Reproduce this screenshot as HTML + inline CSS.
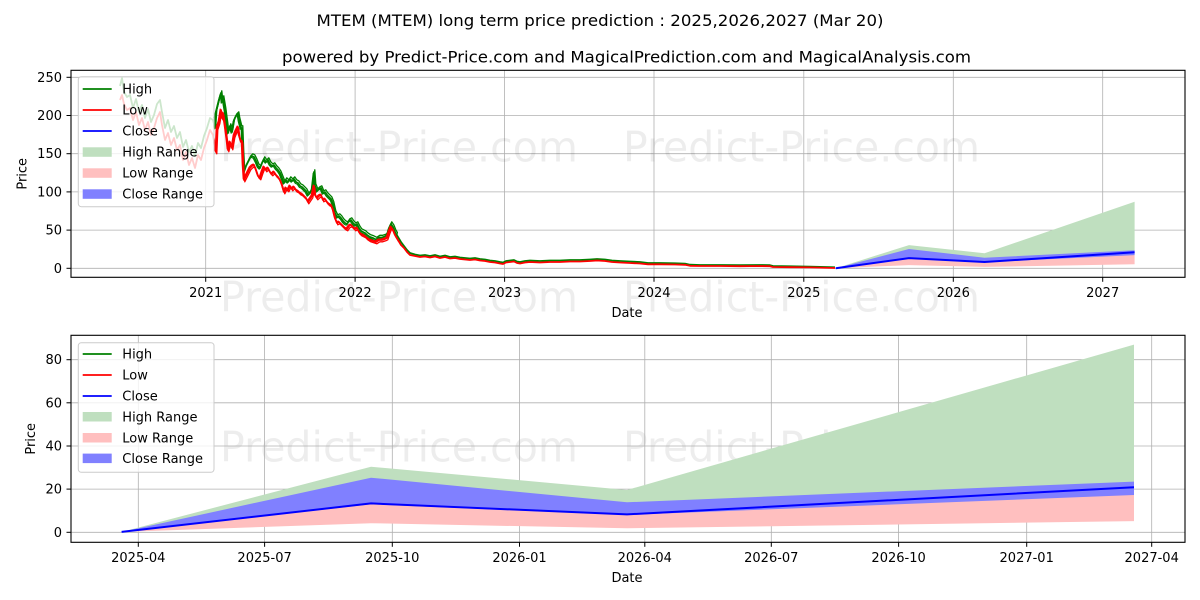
<!DOCTYPE html>
<html>
<head>
<meta charset="utf-8">
<style>
html,body{margin:0;padding:0;background:#fff;}
svg{display:block;}
text{font-family:"DejaVu Sans","Liberation Sans",sans-serif;}
</style>
</head>
<body>
<svg width="1200" height="600" viewBox="0 0 1200 600" xmlns="http://www.w3.org/2000/svg">
<defs>
<clipPath id="c1"><rect x="71" y="70.3" width="1114" height="207"/></clipPath>
<clipPath id="c2"><rect x="71" y="335.3" width="1114" height="207"/></clipPath>
<clipPath id="cn"><rect x="213" y="70.3" width="185" height="207"/></clipPath>
<polyline id="hi" fill="none" stroke-linejoin="round" points="120,86 122,78 124,92 127,97 130,95 133,108 136,99 139,112 142,105 145,118 148,109 151,122 154,115 157,104 160,100 162,112 165,128 168,120 171,132 174,126 177,138 180,132 183,147 186,140 189,152 192,146 195,156 198,143 201,148 204,136 207,128 210,118 213,120 215,128 216,112 217,108 219,100 221,93 222,102 223,98 225,110 227,125 228,133 230,126 232,132 234,120 236,116 238,114 239,120 241,128 242,128 243,155 244,172 246,166 248,162 250,158 252,156 254,157 256,161 258,166 260,168 262,163 264,159 266,162 268,160 270,164 272,166 274,165 276,168 278,170 280,173 282,178 284,183 286,180 288,182 290,179 292,181 294,179 296,182 298,183 300,186 302,187 304,189 306,191 308,195 310,193 312,189 314,172 315,186 317,191 319,189 321,188 323,193 325,192 327,195 329,197 331,199 333,204 335,213 337,217 339,216 341,218 343,221 345,223 347,224 349,221 351,220 353,223 355,225 357,224 359,228 361,231 363,232 365,233 367,235 370,237 373,238 376,239.5 379,237.5 382,237.5 385,236.5 387,235 389,228 391,224 393,227 395,232 398,237 401,242 404,246 407,250 410,253 415,254.5 420,255.5 425,255 430,256 435,255 440,256.5 445,255.5 450,257 455,256.5 460,257.5 465,258 470,258.5 475,258 480,259 485,259.5 490,260.5 495,261 500,262 503,262.5 506,261 510,260.5 514,260 517,261.5 520,262 525,261 530,260.5 540,261 550,260.5 560,260.5 570,260 580,260 590,259.5 597,259 605,259.5 612,260.5 620,261 630,261.5 640,262 648,263 660,263 675,263.3 685,263.6 690,264.7 700,265 720,265 740,265.2 760,265 770,265.2 773,266 790,266.3 810,266.6 835,267.3"/>
<polyline id="lo" fill="none" stroke-linejoin="round" points="120,100 122,95 124,104 127,110 130,108 133,120 136,112 139,125 142,118 145,130 148,122 151,135 154,128 157,118 160,112 162,125 165,140 168,133 171,145 174,138 177,150 180,145 183,160 186,152 189,165 192,158 195,168 198,155 201,160 204,148 207,140 210,130 213,135 215,148 216,152 217,128 219,122 221,110 222,118 223,113 225,126 227,141 228,150 230,142 232,148 234,136 236,131 238,127 239,135 241,142 242,141 243,165 244,180 246,176 248,172 250,168 252,166 254,165 256,170 258,176 260,178 262,172 264,167 266,170 268,168 270,172 272,174 274,172 276,175 278,177 280,180 282,185 284,192 286,188 288,190 290,186 292,189 294,187 296,190 298,191 300,193 302,194 304,196 306,198 308,202 310,199 312,196 314,186 315,195 317,198 319,196 321,195 323,200 325,199 327,202 329,204 331,205 333,210 335,218 337,223 339,222 341,224 343,226 345,228 347,229 349,226 351,225 353,227 355,229 357,228 359,232 361,234 363,235 365,236 367,238 370,240 373,241 376,242 379,240 382,240 385,239 387,238 389,232 391,227 393,230 395,235 398,240 401,245 404,248 407,252 410,255 415,256 420,257 425,256.5 430,257.5 435,256.5 440,258 445,257 450,258.5 455,258 460,259 465,259.5 470,260 475,259.5 480,260.5 485,261 490,262 495,262.5 500,263.5 503,264 506,262.5 510,262 514,261.5 517,263 520,263.5 525,262.5 530,262 540,262.5 550,262 560,262 570,261.5 580,261.5 590,261 597,260.5 605,261 612,262 620,262.5 630,263 640,263.5 648,264.3 660,264.3 675,264.5 685,264.8 690,265.8 700,266 720,266 740,266.2 760,266 770,266.2 773,267 790,267.2 810,267.4 835,268"/>
</defs>
<rect width="1200" height="600" fill="#fff"/>

<!-- Titles -->
<text x="600" y="26" font-size="16" text-anchor="middle" textLength="567" lengthAdjust="spacingAndGlyphs" fill="#000">MTEM (MTEM) long term price prediction : 2025,2026,2027 (Mar 20)</text>
<text x="626.5" y="62.5" font-size="16" text-anchor="middle" textLength="689" lengthAdjust="spacingAndGlyphs" fill="#000">powered by Predict-Price.com and MagicalPrediction.com and MagicalAnalysis.com</text>

<!-- ===== TOP CHART ===== -->
<g stroke="#b0b0b0" stroke-width="0.8">
<line x1="71" x2="1185" y1="268.3" y2="268.3"/>
<line x1="71" x2="1185" y1="230.1" y2="230.1"/>
<line x1="71" x2="1185" y1="191.9" y2="191.9"/>
<line x1="71" x2="1185" y1="153.7" y2="153.7"/>
<line x1="71" x2="1185" y1="115.5" y2="115.5"/>
<line x1="71" x2="1185" y1="77.3" y2="77.3"/>
<line y1="70.3" y2="277.3" x1="205.7" x2="205.7"/>
<line y1="70.3" y2="277.3" x1="355.1" x2="355.1"/>
<line y1="70.3" y2="277.3" x1="504.6" x2="504.6"/>
<line y1="70.3" y2="277.3" x1="654" x2="654"/>
<line y1="70.3" y2="277.3" x1="803.8" x2="803.8"/>
<line y1="70.3" y2="277.3" x1="953.3" x2="953.3"/>
<line y1="70.3" y2="277.3" x1="1102.7" x2="1102.7"/>
</g>

<!-- watermarks -->
<g font-size="42" fill="#000" fill-opacity="0.07">
<text x="220" y="161.7" textLength="358" lengthAdjust="spacingAndGlyphs">Predict-Price.com</text>
<text x="623" y="161.7" textLength="357" lengthAdjust="spacingAndGlyphs">Predict-Price.com</text>
<text x="220" y="311.7" textLength="358" lengthAdjust="spacingAndGlyphs">Predict-Price.com</text>
<text x="623" y="311.7" textLength="357" lengthAdjust="spacingAndGlyphs">Predict-Price.com</text>
<text x="220" y="461.7" textLength="358" lengthAdjust="spacingAndGlyphs">Predict-Price.com</text>
<text x="623" y="461.7" textLength="357" lengthAdjust="spacingAndGlyphs">Predict-Price.com</text>
</g>

<g clip-path="url(#c1)">
<use href="#hi" stroke="#008000" stroke-width="1.8"/>
<g clip-path="url(#cn)">
<use href="#hi" stroke="#008000" stroke-width="1.3" transform="translate(0.8,-2.2)"/>
<use href="#hi" stroke="#008000" stroke-width="1.1" transform="translate(-0.8,1.2)"/>
</g>
<use href="#lo" stroke="#ff0000" stroke-width="1.8"/>
<g clip-path="url(#cn)">
<use href="#lo" stroke="#ff0000" stroke-width="1.3" transform="translate(0.8,1.8)"/>
<use href="#lo" stroke="#ff0000" stroke-width="1.1" transform="translate(-0.8,-1)"/>
</g>
<!-- forecast -->
<polygon fill="#bfdfbf" points="835.8,268.2 909,245.1 984.5,253.3 1134.6,201.8 1134.6,252.3 984.5,262 909,258.1"/>
<polygon fill="#ffbfbf" points="835.8,268.2 909,258.1 984.5,262 1134.6,252.3 1134.6,264.3 984.5,266.9 909,265.1"/>
<polygon fill="#8080ff" points="835.8,268.2 909,249 984.5,257.7 1134.6,250.3 1134.6,255.1 984.5,262.2 909,258.4"/>
<polyline fill="none" stroke="#0000ff" stroke-width="2" stroke-linejoin="round" points="835.8,268.2 909,258.1 984.5,262 1134.6,252.3"/>
</g>

<!-- top axes frame -->
<rect x="71" y="70.3" width="1114" height="207" fill="none" stroke="#000" stroke-width="1.1"/>
<g stroke="#000" stroke-width="1">
<line x1="66.5" x2="71" y1="268.3" y2="268.3"/>
<line x1="66.5" x2="71" y1="230.1" y2="230.1"/>
<line x1="66.5" x2="71" y1="191.9" y2="191.9"/>
<line x1="66.5" x2="71" y1="153.7" y2="153.7"/>
<line x1="66.5" x2="71" y1="115.5" y2="115.5"/>
<line x1="66.5" x2="71" y1="77.3" y2="77.3"/>
<line y1="277.3" y2="281.8" x1="205.7" x2="205.7"/>
<line y1="277.3" y2="281.8" x1="355.1" x2="355.1"/>
<line y1="277.3" y2="281.8" x1="504.6" x2="504.6"/>
<line y1="277.3" y2="281.8" x1="654" x2="654"/>
<line y1="277.3" y2="281.8" x1="803.8" x2="803.8"/>
<line y1="277.3" y2="281.8" x1="953.3" x2="953.3"/>
<line y1="277.3" y2="281.8" x1="1102.7" x2="1102.7"/>
</g>
<g font-size="13" fill="#000" text-anchor="end">
<text x="62" y="272.8">0</text>
<text x="62" y="234.6">50</text>
<text x="62" y="196.4">100</text>
<text x="62" y="158.2">150</text>
<text x="62" y="120">200</text>
<text x="62" y="81.8">250</text>
</g>
<g font-size="13" fill="#000" text-anchor="middle">
<text x="205.7" y="297">2021</text>
<text x="355.1" y="297">2022</text>
<text x="504.6" y="297">2023</text>
<text x="654" y="297">2024</text>
<text x="803.8" y="297">2025</text>
<text x="953.3" y="297">2026</text>
<text x="1102.7" y="297">2027</text>
<text x="627" y="317">Date</text>
<text transform="translate(26.5,173.8) rotate(-90)">Price</text>
</g>

<!-- top legend -->
<rect x="78.3" y="76.7" width="135.7" height="130" rx="3" ry="3" fill="#fff" fill-opacity="0.8" stroke="#cccccc" stroke-width="1"/>
<g stroke-width="1.8">
<line x1="82.7" x2="111.7" y1="89" y2="89" stroke="#008000"/>
<line x1="82.7" x2="111.7" y1="110" y2="110" stroke="#ff0000"/>
<line x1="82.7" x2="111.7" y1="131" y2="131" stroke="#0000ff"/>
</g>
<rect x="82.7" y="147.3" width="29" height="9.5" fill="#bfdfbf"/>
<rect x="82.7" y="168.3" width="29" height="9.5" fill="#ffbfbf"/>
<rect x="82.7" y="189.3" width="29" height="9.5" fill="#8080ff"/>
<g font-size="13" fill="#000">
<text x="122.3" y="93.6">High</text>
<text x="122.3" y="114.6">Low</text>
<text x="122.3" y="135.6">Close</text>
<text x="122.3" y="156.6">High Range</text>
<text x="122.3" y="177.6">Low Range</text>
<text x="122.3" y="198.6">Close Range</text>
</g>

<!-- ===== BOTTOM CHART ===== -->
<g stroke="#b0b0b0" stroke-width="0.8">
<line x1="71" x2="1185" y1="532.3" y2="532.3"/>
<line x1="71" x2="1185" y1="489.1" y2="489.1"/>
<line x1="71" x2="1185" y1="446" y2="446"/>
<line x1="71" x2="1185" y1="402.8" y2="402.8"/>
<line x1="71" x2="1185" y1="359.7" y2="359.7"/>
<line y1="335.3" y2="542.3" x1="138.3" x2="138.3"/>
<line y1="335.3" y2="542.3" x1="264.6" x2="264.6"/>
<line y1="335.3" y2="542.3" x1="392.3" x2="392.3"/>
<line y1="335.3" y2="542.3" x1="519.5" x2="519.5"/>
<line y1="335.3" y2="542.3" x1="644.8" x2="644.8"/>
<line y1="335.3" y2="542.3" x1="771.3" x2="771.3"/>
<line y1="335.3" y2="542.3" x1="898.6" x2="898.6"/>
<line y1="335.3" y2="542.3" x1="1026.7" x2="1026.7"/>
<line y1="335.3" y2="542.3" x1="1151.7" x2="1151.7"/>
</g>
<g clip-path="url(#c2)">
<polygon fill="#bfdfbf" points="121.6,531.9 371,466.7 627,490 1134,344.6 1134,487.2 627,514.4 371,503.4"/>
<polygon fill="#ffbfbf" points="121.6,531.9 371,503.4 627,514.4 1134,487.2 1134,521.1 627,528.3 371,523.2"/>
<polygon fill="#8080ff" points="121.6,531.9 371,477.7 627,502.3 1134,481.6 1134,495 627,515 371,504.3"/>
<polyline fill="none" stroke="#0000ff" stroke-width="2" stroke-linejoin="round" points="121.6,531.9 371,503.4 627,514.4 1134,487.2"/>
</g>
<rect x="71" y="335.3" width="1114" height="207" fill="none" stroke="#000" stroke-width="1.1"/>
<g stroke="#000" stroke-width="1">
<line x1="66.5" x2="71" y1="532.3" y2="532.3"/>
<line x1="66.5" x2="71" y1="489.1" y2="489.1"/>
<line x1="66.5" x2="71" y1="446" y2="446"/>
<line x1="66.5" x2="71" y1="402.8" y2="402.8"/>
<line x1="66.5" x2="71" y1="359.7" y2="359.7"/>
<line y1="542.3" y2="546.8" x1="138.3" x2="138.3"/>
<line y1="542.3" y2="546.8" x1="264.6" x2="264.6"/>
<line y1="542.3" y2="546.8" x1="392.3" x2="392.3"/>
<line y1="542.3" y2="546.8" x1="519.5" x2="519.5"/>
<line y1="542.3" y2="546.8" x1="644.8" x2="644.8"/>
<line y1="542.3" y2="546.8" x1="771.3" x2="771.3"/>
<line y1="542.3" y2="546.8" x1="898.6" x2="898.6"/>
<line y1="542.3" y2="546.8" x1="1026.7" x2="1026.7"/>
<line y1="542.3" y2="546.8" x1="1151.7" x2="1151.7"/>
</g>
<g font-size="13" fill="#000" text-anchor="end">
<text x="62" y="536.8">0</text>
<text x="62" y="493.6">20</text>
<text x="62" y="450.5">40</text>
<text x="62" y="407.3">60</text>
<text x="62" y="364.2">80</text>
</g>
<g font-size="13" fill="#000" text-anchor="middle">
<text x="138.3" y="562">2025-04</text>
<text x="264.6" y="562">2025-07</text>
<text x="392.3" y="562">2025-10</text>
<text x="519.5" y="562">2026-01</text>
<text x="644.8" y="562">2026-04</text>
<text x="771.3" y="562">2026-07</text>
<text x="898.6" y="562">2026-10</text>
<text x="1026.7" y="562">2027-01</text>
<text x="1151.7" y="562">2027-04</text>
<text x="627" y="582">Date</text>
<text transform="translate(35,438.8) rotate(-90)">Price</text>
</g>

<!-- bottom legend -->
<rect x="78.3" y="342.7" width="135.7" height="129.6" rx="3" ry="3" fill="#fff" fill-opacity="0.8" stroke="#cccccc" stroke-width="1"/>
<g stroke-width="1.8">
<line x1="82.7" x2="111.7" y1="354" y2="354" stroke="#008000"/>
<line x1="82.7" x2="111.7" y1="375" y2="375" stroke="#ff0000"/>
<line x1="82.7" x2="111.7" y1="396" y2="396" stroke="#0000ff"/>
</g>
<rect x="82.7" y="412" width="29" height="9.5" fill="#bfdfbf"/>
<rect x="82.7" y="433" width="29" height="9.5" fill="#ffbfbf"/>
<rect x="82.7" y="453.6" width="29" height="9.5" fill="#8080ff"/>
<g font-size="13" fill="#000">
<text x="122.3" y="358.6">High</text>
<text x="122.3" y="379.6">Low</text>
<text x="122.3" y="400.6">Close</text>
<text x="122.3" y="421.3">High Range</text>
<text x="122.3" y="442.3">Low Range</text>
<text x="122.3" y="462.9">Close Range</text>
</g>
</svg>
</body>
</html>
